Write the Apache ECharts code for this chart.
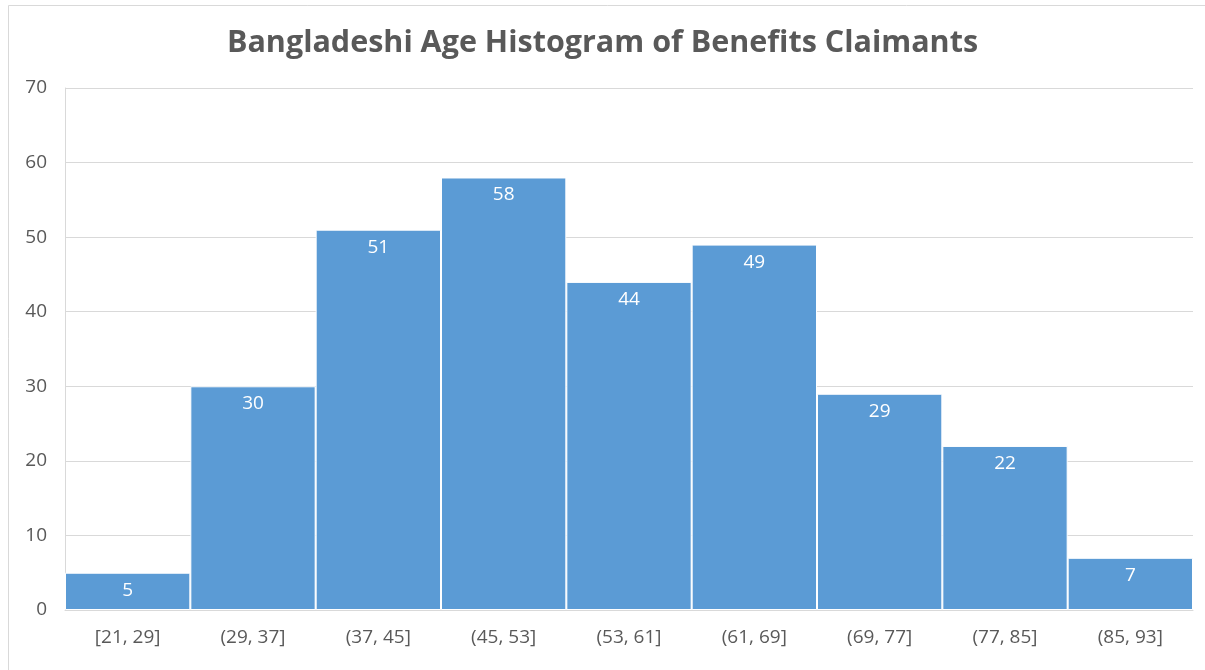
<!DOCTYPE html>
<html><head><meta charset="utf-8">
<script src="https://cdn.jsdelivr.net/npm/echarts@6/dist/echarts.min.js"></script>
<style>html,body{margin:0;padding:0;background:#fff}#c{width:1205px;height:670px}</style>
</head><body><div id="c"></div>
<script>
const categories = ["[21, 29]","(29, 37]","(37, 45]","(45, 53]","(53, 61]","(61, 69]","(69, 77]","(77, 85]","(85, 93]"];
const counts = [5, 30, 51, 58, 44, 49, 29, 22, 7];
const yTicks = {min: 0, max: 70, interval: 10};
const titleText = "Bangladeshi Age Histogram of Benefits Claimants";

const chart = echarts.init(document.getElementById('c'));
chart.setOption({
  animation: false,
  backgroundColor: '#fff',
  graphic: [{type: 'rect', shape: {x: 8.5, y: 5.5, width: 1300, height: 800}, style: {fill: 'none', stroke: '#d9d9d9', lineWidth: 1}, silent: true}],
  title: {text: titleText, left: 'center', top: 23, textStyle: {fontFamily: 'Open Sans', fontWeight: 'bold', fontSize: 30.5, color: '#595959'}},
  grid: {left: 65, right: 12, top: 88, bottom: 60},
  xAxis: {type: 'category', data: categories,
    axisLine: {show: true, lineStyle: {color: '#d9d9d9'}}, axisTick: {show: false},
    axisLabel: {color: '#595959', fontFamily: 'Open Sans', fontSize: 19, margin: 18}},
  yAxis: {type: 'value', min: yTicks.min, max: yTicks.max, interval: yTicks.interval,
    axisLine: {show: true, lineStyle: {color: '#d9d9d9'}}, axisTick: {show: false},
    splitLine: {lineStyle: {color: '#d9d9d9'}},
    axisLabel: {color: '#595959', fontFamily: 'Open Sans', fontSize: 19, margin: 18}},
  series: [{type: 'bar', data: counts, barCategoryGap: '0%',
    itemStyle: {color: '#5b9bd5', borderColor: '#ffffff', borderWidth: 1},
    label: {show: true, position: 'insideTop', distance: 8, color: '#ffffff', fontFamily: 'Open Sans', fontSize: 19}}]
});
</script></body></html>
